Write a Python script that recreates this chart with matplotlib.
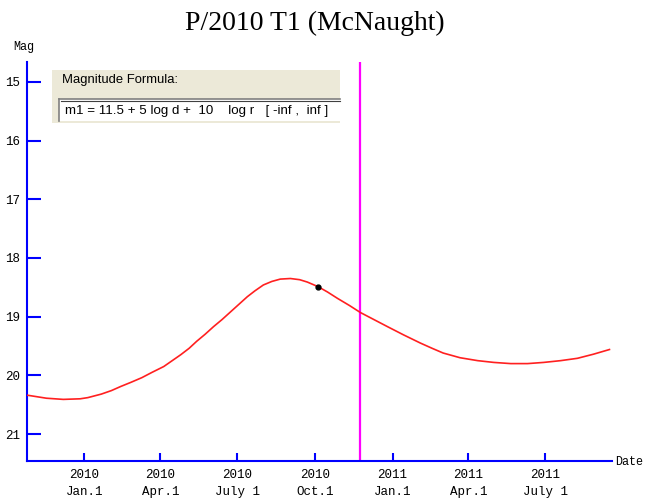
import matplotlib
matplotlib.use("Agg")
import matplotlib.pyplot as plt
from matplotlib.patches import Rectangle
from matplotlib.lines import Line2D
import datetime as dt

title = "P/2010 T1 (McNaught)"
base = dt.date(2010, 1, 1)
# days since 2010-01-01 and magnitude
day_offsets = [-67, -45, -25, -5, 4, 20, 32, 43, 55, 68, 80, 94, 104, 114, 124, 133,
               143, 153, 163, 173, 183, 193, 202, 212, 222, 232, 244, 255, 264,
               277, 288, 300, 314, 327, 343, 359, 378, 398, 412, 425, 445, 466,
               485, 505, 525, 544, 564, 584, 603, 622]
mags = [20.34, 20.39, 20.41, 20.40, 20.38, 20.32, 20.26, 20.19, 20.12, 20.04, 19.95,
        19.85, 19.75, 19.65, 19.54, 19.42, 19.30, 19.17, 19.05, 18.92, 18.79, 18.66,
        18.56, 18.46, 18.40, 18.36, 18.35, 18.37, 18.41, 18.49, 18.58, 18.69, 18.81,
        18.93, 19.05, 19.17, 19.31, 19.45, 19.54, 19.62, 19.70, 19.75, 19.78, 19.80,
        19.80, 19.78, 19.75, 19.71, 19.64, 19.56]
obs_date = dt.date(2010, 10, 5)
obs_mag = 18.49
now_date = dt.date(2010, 11, 24)
tick_dates = [dt.date(2010, 1, 1), dt.date(2010, 4, 1), dt.date(2010, 7, 1),
              dt.date(2010, 10, 1), dt.date(2011, 1, 1), dt.date(2011, 4, 1),
              dt.date(2011, 7, 1)]
tick_labels = ["2010\nJan.1", "2010\nApr.1", "2010\nJuly 1", "2010\nOct.1",
               "2011\nJan.1", "2011\nApr.1", "2011\nJuly 1"]
y_ticks = [15, 16, 17, 18, 19, 20, 21]
formula_title = "Magnitude Formula:"
formula = "m1 = 11.5 + 5 log d +  10    log r   [ -inf ,  inf ]"

dates = [base + dt.timedelta(days=d) for d in day_offsets]

W, H = 645, 504
fig = plt.figure(figsize=(W / 100, H / 100), dpi=100)
fig.patch.set_facecolor("white")

def fx(px):
    return px / W

def fy(py):
    return 1 - py / H

ax = fig.add_axes([fx(27), fy(461), fx(612) - fx(27), fy(62) - fy(461)])
ax.plot(dates, mags, color="#ff2020", lw=1.2, zorder=3)
ax.plot([obs_date], [obs_mag], "o", color="black", ms=3.5, zorder=4)
ax.axvline(now_date, color="#ff00ff", lw=1.6, zorder=2)

ax.set_xlim(dt.date(2009, 10, 25), dt.date(2011, 9, 18))
ax.set_ylim(21.46, 14.66)
ax.set_xticks(tick_dates)
ax.set_xticklabels(tick_labels, family="Liberation Mono", fontsize=9, linespacing=1.55)
ax.set_yticks(y_ticks)
ax.set_yticklabels([str(v) for v in y_ticks], family="Liberation Mono", fontsize=9)

for s in ["top", "right"]:
    ax.spines[s].set_visible(False)
for s in ["left", "bottom"]:
    ax.spines[s].set_color("#0000ff")
    ax.spines[s].set_linewidth(1.5)
ax.tick_params(axis="y", direction="in", length=10, width=1.5, color="#0000ff", pad=5)
ax.tick_params(axis="x", direction="in", length=6, width=1.5, color="#0000ff", pad=6)

fig.text(fx(315), fy(23), title, ha="center", va="center",
         family="Liberation Serif", fontsize=20)
fig.text(fx(24), fy(47), "Mag", ha="center", va="center",
         family="Liberation Mono", fontsize=8.5)
fig.text(fx(615), fy(462), "Date", ha="left", va="center",
         family="Liberation Mono", fontsize=8.5)

# Magnitude formula panel
fig.add_artist(Rectangle((fx(52), fy(123)), fx(340) - fx(52), fy(70) - fy(123),
                         transform=fig.transFigure, facecolor="#ece9d8",
                         edgecolor="none", zorder=5))
fig.add_artist(Rectangle((fx(59), fy(121)), fx(340) - fx(59), fy(99) - fy(121),
                         transform=fig.transFigure, facecolor="white",
                         edgecolor="none", zorder=6))
fig.add_artist(Line2D([fx(59), fx(59)], [fy(121), fy(99)], transform=fig.transFigure,
                      color="#808080", lw=1.2, zorder=7))
fig.add_artist(Line2D([fx(59), fx(340)], [fy(99), fy(99)], transform=fig.transFigure,
                      color="#808080", lw=1.2, zorder=7))
fig.add_artist(Line2D([fx(60.5), fx(340)], [fy(100.5), fy(100.5)], transform=fig.transFigure,
                      color="#404040", lw=0.8, zorder=7))
fig.text(fx(62), fy(80), formula_title, ha="left", va="center",
         family="Liberation Sans", fontsize=9.4, zorder=8)
fig.text(fx(65), fy(111), formula, ha="left", va="center",
         family="Liberation Sans", fontsize=9.6, zorder=8)

fig.savefig("out.png", dpi=100)
